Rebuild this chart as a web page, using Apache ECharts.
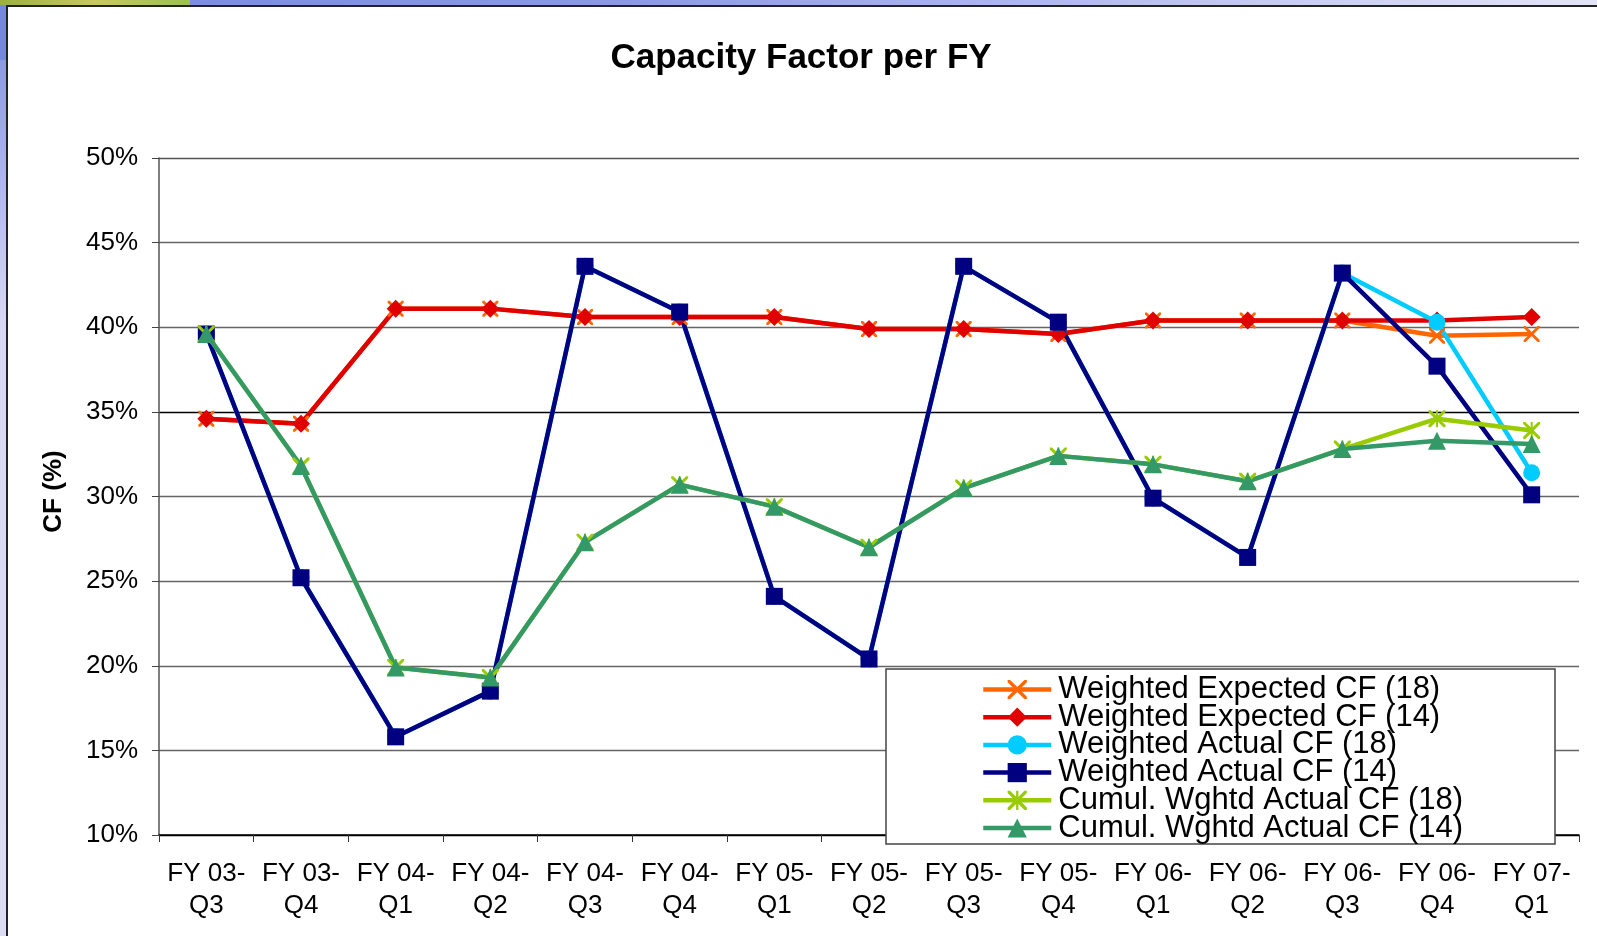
<!DOCTYPE html>
<html>
<head>
<meta charset="utf-8">
<script src="https://cdn.jsdelivr.net/npm/echarts@6/dist/echarts.min.js"></script>
<style>
  html, body { margin: 0; padding: 0; }
  body {
    width: 1597px; height: 936px; overflow: hidden; position: relative;
    background: linear-gradient(90deg, #7488df 0%, #8c9ae4 40%, #e4e4f8 100%);
  }
  #frame {
    position: absolute; left: 6px; top: 5px; right: 0; bottom: 0;
    background: #fff;
    border-left: 2px solid #222; border-top: 2px solid #222;
  }
  #side {
    position: absolute; left: 0; top: 60px; width: 6px; bottom: 0;
    background: linear-gradient(180deg, #8c9ae4 0%, #d8d8f4 30%, #dcdcf4 100%);
  }
  #leaf {
    position: absolute; left: 0; top: 0; width: 190px; height: 5px;
    background: linear-gradient(90deg, #9bb040 0%, #c8c860 50%, #9cc050 100%);
  }
  #chart { position: absolute; left: 0; top: 0; width: 1597px; height: 936px; }
</style>
</head>
<body>
<div id="side"></div>
<div id="leaf"></div>
<div id="frame"></div>
<div id="chart"></div>
<script>
  // quarters on the x axis
  const categories = ['FY 03-\nQ3', 'FY 03-\nQ4', 'FY 04-\nQ1', 'FY 04-\nQ2', 'FY 04-\nQ3',
    'FY 04-\nQ4', 'FY 05-\nQ1', 'FY 05-\nQ2', 'FY 05-\nQ3', 'FY 05-\nQ4', 'FY 06-\nQ1',
    'FY 06-\nQ2', 'FY 06-\nQ3', 'FY 06-\nQ4', 'FY 07-\nQ1']

  // capacity factor in %
  const expected18 = [34.6, 34.3, 41.1, 41.1, 40.6, 40.6, 40.6, 39.9, 39.9, 39.6, 40.4, 40.4, 40.4, 39.5, 39.6]
  const expected14 = [34.6, 34.3, 41.1, 41.1, 40.6, 40.6, 40.6, 39.9, 39.9, 39.6, 40.4, 40.4, 40.4, 40.4, 40.6]
  const actual18 = [39.6, 25.2, 15.8, 18.5, 43.6, 40.9, 24.1, 20.4, 43.6, 40.3, 29.9, 26.4, 43.2, 40.3, 31.4]
  const actual14 = [39.6, 25.2, 15.8, 18.5, 43.6, 40.9, 24.1, 20.4, 43.6, 40.3, 29.9, 26.4, 43.2, 37.7, 30.1]
  const cumul18 = [39.6, 31.8, 19.9, 19.3, 27.3, 30.7, 29.4, 27.0, 30.5, 32.4, 31.9, 30.9, 32.8, 34.6, 33.9]
  const cumul14 = [39.6, 31.8, 19.9, 19.3, 27.3, 30.7, 29.4, 27.0, 30.5, 32.4, 31.9, 30.9, 32.8, 33.3, 33.1]

  const yTicks = ['10%', '15%', '20%', '25%', '30%', '35%', '40%', '45%', '50%']

  // marker shapes that echarts does not have built in
  const crossPath = 'path://M0,0L2.5,0L10,7.5L17.5,0L20,0L20,2.5L12.5,10L20,17.5L20,20L17.5,20L10,12.5L2.5,20L0,20L0,17.5L7.5,10L0,2.5Z'
  const starPath = 'path://M0,0L2.5,0L10,7.5L17.5,0L20,0L20,2.5L12.5,10L20,17.5L20,20L17.5,20L10,12.5L2.5,20L0,20L0,17.5L7.5,10L0,2.5Z M8.8,0L11.2,0L11.2,20L8.8,20Z'

  const font = 'Liberation Sans, Arial, sans-serif'

  function makeLine (name, data, color, symbol, size) {
    return {
      name: name,
      type: 'line',
      data: data,
      symbol: symbol,
      symbolSize: size,
      showAllSymbol: true,
      lineStyle: { color: color, width: 4.5 },
      itemStyle: { color: color },
      emphasis: { disabled: true }
    }
  }

  let myChart = echarts.init(document.getElementById('chart'), null, { renderer: 'canvas' })
  myChart.setOption({
    animation: false,
    backgroundColor: 'transparent',
    title: {
      text: 'Capacity Factor per FY',
      left: 801,
      textAlign: 'center',
      top: 41,
      padding: 0,
      textStyle: { fontFamily: font, fontSize: 35, fontWeight: 'bold', color: '#000' }
    },
    grid: { left: 159, right: 18, top: 158, bottom: 101, containLabel: false },
    legend: {
      orient: 'vertical',
      left: 981,
      top: 674,
      padding: 0,
      itemGap: -3.3,
      itemWidth: 68,
      itemHeight: 24,
      selectedMode: false,
      lineStyle: { width: 4.5 },
      textStyle: { fontFamily: font, fontSize: 31, lineHeight: 27.7, color: '#000', padding: [0, 0, 0, 2] },
      data: ['Weighted Expected CF (18)', 'Weighted Expected CF (14)', 'Weighted Actual CF (18)',
        'Weighted Actual CF (14)', 'Cumul. Wghtd Actual CF (18)', 'Cumul. Wghtd Actual CF (14)']
    },
    graphic: [{
      type: 'rect',
      z: 3,
      shape: { x: 886, y: 669, width: 669, height: 175 },
      style: { fill: '#fff', stroke: '#444', lineWidth: 1.5 }
    }],
    xAxis: {
      type: 'category',
      data: categories,
      boundaryGap: true,
      axisLine: { lineStyle: { color: '#000', width: 1.5 } },
      axisTick: { show: true, length: 7, inside: false, lineStyle: { color: '#333' } },
      axisLabel: { fontFamily: font, fontSize: 26, color: '#000', lineHeight: 32, margin: 23, interval: 0 }
    },
    yAxis: {
      type: 'value',
      min: 10,
      max: 50,
      interval: 5,
      name: 'CF (%)',
      nameLocation: 'middle',
      nameGap: 92,
      nameTextStyle: { fontFamily: font, fontSize: 26, fontWeight: 'bold', color: '#000', padding: [0, 0, 0, 10] },
      axisLine: { show: true, lineStyle: { color: '#555', width: 1.5 } },
      axisTick: { show: true, length: 7, lineStyle: { color: '#444' } },
      axisLabel: {
        fontFamily: font, fontSize: 26, color: '#000', margin: 21,
        formatter: function (v) { return yTicks[Math.round((v - 10) / 5)] }
      },
      splitLine: {
        show: true,
        lineStyle: {
          width: 1.3,
          color: ['#000', '#666', '#666', '#666', '#666', '#000', '#666', '#666', '#555']
        }
      }
    },
    series: [
      makeLine('Weighted Expected CF (18)', expected18, '#ff6600', crossPath, 16),
      makeLine('Weighted Expected CF (14)', expected14, '#e00000', 'diamond', 18),
      makeLine('Weighted Actual CF (18)', actual18, '#00ccff', 'circle', 17),
      makeLine('Weighted Actual CF (14)', actual14, '#000080', 'rect', 17),
      makeLine('Cumul. Wghtd Actual CF (18)', cumul18, '#99cc00', starPath, 17),
      makeLine('Cumul. Wghtd Actual CF (14)', cumul14, '#339966', 'triangle', 18)
    ]
  })
</script>
</body>
</html>
